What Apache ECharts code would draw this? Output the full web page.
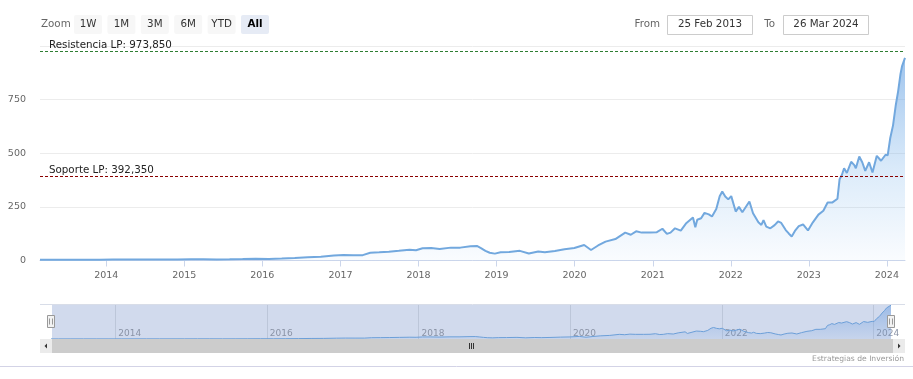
<!DOCTYPE html>
<html>
<head>
<meta charset="utf-8">
<script src="https://cdn.jsdelivr.net/npm/echarts@6/dist/echarts.min.js"></script>
<style>
html,body{margin:0;padding:0;background:#fff;}
#chart{width:913px;height:379px;}
</style>
</head>
<body>
<div id="chart"></div>
<script>
// ---------- DATA ----------
const dates = [
'2013-02-25','2013-04-01','2013-06-01','2013-08-01','2013-10-01','2013-12-01',
'2014-02-01','2014-04-01','2014-06-01','2014-08-01','2014-10-01','2014-12-01',
'2015-02-01','2015-04-01','2015-06-01','2015-08-01','2015-10-01','2015-12-01',
'2016-02-01','2016-04-01','2016-06-01','2016-08-01','2016-10-01','2016-12-01',
'2017-01-15','2017-03-01','2017-04-15','2017-05-20','2017-07-01','2017-08-15','2017-10-01','2017-11-20','2017-12-20',
'2018-01-20','2018-03-01','2018-04-10','2018-06-01','2018-07-15','2018-09-01','2018-10-01','2018-10-20','2018-11-10','2018-11-30','2018-12-24',
'2019-01-20','2019-03-01','2019-04-20','2019-06-01','2019-07-15','2019-08-15','2019-10-01','2019-11-15','2019-12-31',
'2020-02-15','2020-03-18','2020-04-20','2020-05-25','2020-07-10','2020-08-25','2020-09-20','2020-10-15','2020-11-10','2020-12-20',
'2021-01-20','2021-02-15','2021-03-08','2021-03-25','2021-04-15','2021-05-12','2021-06-05','2021-07-08','2021-07-19','2021-07-28','2021-08-15','2021-08-31','2021-09-20','2021-10-05','2021-10-25','2021-11-10','2021-11-22','2021-12-06','2021-12-20',
'2022-01-03','2022-01-24','2022-02-08','2022-02-24','2022-03-29','2022-04-15','2022-05-10','2022-05-24','2022-06-03','2022-06-16','2022-07-05','2022-07-25','2022-08-10','2022-08-25','2022-09-15','2022-09-30','2022-10-13','2022-10-28','2022-11-15','2022-12-05','2022-12-28',
'2023-01-20','2023-02-15','2023-03-10','2023-03-30','2023-04-20','2023-05-15','2023-05-25','2023-06-05','2023-06-15','2023-06-28','2023-07-18','2023-08-01','2023-08-09','2023-08-25','2023-09-08','2023-09-22','2023-10-10','2023-10-26','2023-11-15','2023-12-05','2023-12-26',
'2024-01-05','2024-01-17','2024-01-30','2024-02-12','2024-02-23','2024-03-05','2024-03-12','2024-03-26'
];
const prices = [
3.1,3.2,3.5,3.6,3.7,3.9,
4.3,4.5,4.7,4.8,4.6,5.0,
5.3,5.4,5.0,5.5,6.8,8.2,
7.3,8.8,11.5,15.0,17.0,23.0,
26,25,25,36,38,41,45,50,48,
57,58,54,60,60,66,68,58,45,36,32,
38,40,45,33,42,38,44,52,58,
72,49,70,88,100,130,120,136,130,130,
132,148,124,130,150,139,172,200,155,190,197,222,215,205,240,300,322,298,285,
300,228,250,225,275,220,178,166,188,158,150,165,182,175,142,125,112,138,160,168,140,
178,214,232,270,270,288,379,400,430,408,460,446,430,485,458,418,458,410,488,465,493,
490,571,630,725,790,870,905,945
];
const yTicks = [0, 250, 500, 750, 1000];
const yearTicks = ['2014-01-01','2015-01-01','2016-01-01','2017-01-01','2018-01-01','2019-01-01','2020-01-01','2021-01-01','2022-01-01','2023-01-01','2024-01-01'];
const navYearTicks = ['2014-01-01','2016-01-01','2018-01-01','2020-01-01','2022-01-01','2024-01-01'];
const levelNames = ['Resistencia LP', 'Soporte LP'];
const levelValues = [973.85, 392.35];
const levelColors = ['#2e7d32', '#8b0000'];
const rangeButtons = ['1W','1M','3M','6M','YTD','All'];
const fromDate = '25 Feb 2013';
const toDate = '26 Mar 2024';
const startDate = '2013-02-25';
const endDate = '2024-03-26';
const creditText = 'Estrategias de Inversión';

// ---------- HELPERS ----------
function ts(s){ const p = s.split('-').map(Number); return Date.UTC(p[0], p[1]-1, p[2]); }
function yearOf(v){ return String(new Date(v + 86400000).getUTCFullYear()); }
const seriesData = dates.map((d,i)=>[ts(d), prices[i]]);
const FONT = '"DejaVu Sans", Verdana, sans-serif';
function fmtLevel(v){ return v.toFixed(3).replace('.', ','); }

const chart = echarts.init(document.getElementById('chart'), null, {renderer:'canvas'});

// range selector graphics
const graphics = [];
graphics.push({type:'text', x:41, y:24.5, z:10, style:{text:'Zoom', fontSize:10.3, fontFamily:FONT, fill:'#666', verticalAlign:'middle'}});
rangeButtons.forEach((b,i)=>{
  const x = 74 + i*33.4;
  const sel = (b === 'All');
  graphics.push({type:'rect', shape:{x:x, y:15, width:28, height:19, r:2}, z:10,
    style:{fill: sel ? '#e6ebf5' : '#f7f7f7'}});
  graphics.push({type:'text', x:x+14, y:24.5, z:11,
    style:{text:b, fontSize:10.3, fontFamily:FONT, fill: sel ? '#000' : '#333', fontWeight: sel ? 'bold':'normal', align:'center', verticalAlign:'middle'}});
});
graphics.push({type:'text', x:660, y:24.5, z:10, style:{text:'From', fontSize:10.3, fontFamily:FONT, fill:'#666', align:'right', verticalAlign:'middle'}});
graphics.push({type:'rect', shape:{x:667.5, y:15.5, width:85, height:19}, z:10, style:{fill:'#fff', stroke:'#cccccc', lineWidth:1}});
graphics.push({type:'text', x:710, y:24.5, z:11, style:{text:fromDate, fontSize:10.3, fontFamily:FONT, fill:'#333', align:'center', verticalAlign:'middle'}});
graphics.push({type:'text', x:775, y:24.5, z:10, style:{text:'To', fontSize:10.3, fontFamily:FONT, fill:'#666', align:'right', verticalAlign:'middle'}});
graphics.push({type:'rect', shape:{x:783.5, y:15.5, width:85, height:19}, z:10, style:{fill:'#fff', stroke:'#cccccc', lineWidth:1}});
graphics.push({type:'text', x:826, y:24.5, z:11, style:{text:toDate, fontSize:10.3, fontFamily:FONT, fill:'#333', align:'center', verticalAlign:'middle'}});

// navigator decorations
graphics.push({type:'line', shape:{x1:40, y1:304.5, x2:905, y2:304.5}, z:5, style:{stroke:'#d8dde8', lineWidth:1}});
graphics.push({type:'rect', shape:{x:52, y:305, width:839, height:34}, z:0, style:{fill:'rgba(102,133,194,0.3)'}});
[51, 891].forEach(hx=>{
  graphics.push({type:'rect', shape:{x:hx-3.5, y:315.5, width:7, height:12}, z:20, style:{fill:'#f2f2f2', stroke:'#999999', lineWidth:1}});
  graphics.push({type:'line', shape:{x1:hx-1.5, y1:318.5, x2:hx-1.5, y2:324.5}, z:21, style:{stroke:'#999', lineWidth:1}});
  graphics.push({type:'line', shape:{x1:hx+1.5, y1:318.5, x2:hx+1.5, y2:324.5}, z:21, style:{stroke:'#999', lineWidth:1}});
});
// scrollbar
graphics.push({type:'rect', shape:{x:40, y:339, width:865, height:14}, z:5, style:{fill:'#f2f2f2'}});
graphics.push({type:'rect', shape:{x:52, y:339, width:841, height:14}, z:6, style:{fill:'#cccccc'}});
graphics.push({type:'rect', shape:{x:40, y:339, width:12, height:14}, z:6, style:{fill:'#ebebeb'}});
graphics.push({type:'rect', shape:{x:893, y:339, width:12, height:14}, z:6, style:{fill:'#ebebeb'}});
graphics.push({type:'polygon', shape:{points:[[44.5,346],[47,343.5],[47,348.5]]}, z:7, style:{fill:'#333'}});
graphics.push({type:'polygon', shape:{points:[[900.5,346],[898,343.5],[898,348.5]]}, z:7, style:{fill:'#333'}});
[469.5, 471.5, 473.5].forEach(gx=>{
  graphics.push({type:'line', shape:{x1:gx, y1:343, x2:gx, y2:349}, z:7, style:{stroke:'#333', lineWidth:1}});
});
// credit + bottom rule
graphics.push({type:'text', x:904, y:359.5, z:10, style:{text:creditText, fontSize:7.6, fontFamily:FONT, fill:'#999', align:'right', verticalAlign:'middle'}});
graphics.push({type:'line', shape:{x1:0, y1:366.5, x2:913, y2:366.5}, z:10, style:{stroke:'#d3d3e6', lineWidth:1}});

const option = {
  animation:false,
  backgroundColor:'#fff',
  textStyle:{fontFamily:FONT},
  graphic: graphics,
  grid:[
    {left:40, right:8, top:46, bottom:118.5},
    {left:51, right:22, top:305, height:34}
  ],
  xAxis:[
    {type:'value', gridIndex:0, min:ts(startDate), max:ts(endDate), scale:true,
     axisLine:{show:true, onZero:false, lineStyle:{color:'#ccd6eb', width:1}},
     axisTick:{show:true, length:6, lineStyle:{color:'#ccd6eb'}, customValues: yearTicks.map(ts)},
     axisLabel:{color:'#666', fontSize:9.5, fontFamily:FONT, margin:10, customValues: yearTicks.map(ts),
       formatter:v=>yearOf(v)},
     splitLine:{show:false}},
    {type:'value', gridIndex:1, min:ts(startDate), max:ts(endDate), scale:true, z:1,
     axisLine:{show:false, onZero:false},
     axisTick:{show:false, customValues: navYearTicks.map(ts)},
     axisLabel:{inside:true, color:'#8a93a6', fontSize:9, fontFamily:FONT, margin:1, align:'left', padding:[0,0,0,3],
       customValues: navYearTicks.map(ts), formatter:v=>yearOf(v)},
     splitLine:{show:true, lineStyle:{color:'#bcc6d9', width:1}}}
  ],
  yAxis:[
    {type:'value', gridIndex:0, min:yTicks[0], max:yTicks[yTicks.length-1], interval:250,
     axisLine:{show:false}, axisTick:{show:false},
     axisLabel:{color:'#666', fontSize:9.5, fontFamily:FONT, margin:14, verticalAlign:'middle', padding:[0,0,10,0],
       formatter:v=> (v === yTicks[yTicks.length-1] ? '' : String(v))},
     splitLine:{lineStyle:{color:'#ececec', width:1}}},
    {type:'value', gridIndex:1, min:0, max:950, show:false, splitLine:{show:false}}
  ],
  series:[
    {type:'line', xAxisIndex:0, yAxisIndex:0, data:seriesData, showSymbol:false, symbol:'none',
     lineStyle:{color:'#72a8de', width:2},
     areaStyle:{color:new echarts.graphic.LinearGradient(0,0,0,1,[
        {offset:0, color:'rgba(104,162,226,0.92)'},
        {offset:0.6, color:'rgba(124,181,236,0.35)'},
        {offset:1, color:'rgba(124,181,236,0.06)'}])},
     markLine:{silent:true, symbol:['none','none'], animation:false,
       data: levelValues.map((v,i)=>({
         yAxis:v,
         lineStyle:{color:levelColors[i], type:[3,2], width:1},
         label:{show:true, position:'insideStartTop', distance:[9,1], color:'#222', fontSize:10.3, fontFamily:FONT,
           formatter: levelNames[i] + ': ' + fmtLevel(v)}
       }))}
    },
    {type:'line', xAxisIndex:1, yAxisIndex:1, data:seriesData, showSymbol:false, symbol:'none', z:3,
     lineStyle:{color:'#6c9fd8', width:1},
     areaStyle:{color:new echarts.graphic.LinearGradient(0,0,0,1,[
        {offset:0, color:'rgba(110,160,225,0.75)'},
        {offset:1, color:'rgba(110,160,225,0.15)'}])}
    }
  ]
};
chart.setOption(option);
</script>
</body>
</html>
